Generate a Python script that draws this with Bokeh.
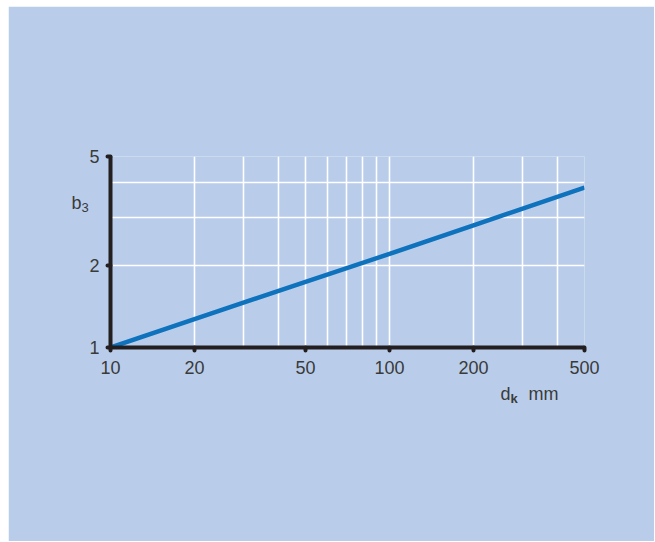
import numpy as np
from bokeh.plotting import figure
from bokeh.models import FixedTicker, Label
from bokeh.embed import file_html
from bokeh.resources import INLINE

# ---- data ----
dk = [10, 20, 50, 100, 200, 500]
b3 = [1.0, 1.27, 1.74, 2.2, 2.8, 3.85]

x_major = [10, 20, 50, 100, 200, 500]
x_grid = [20, 30, 40, 50, 60, 70, 80, 90, 100, 200, 300, 400, 500]
y_major = [1, 2, 5]
y_grid = [2, 3, 4, 5]

# ---- style ----
BG = "#b9cdea"
INK = "#231f20"
TXT = "#3a3a3a"
LINE = "#0f72bd"
FONT = "Liberation Sans"

OX, OY = 8, 6                      # canvas offset on the page
FL, FT, FW, FH = 102, 150, 474, 191  # frame position in canvas pixels
W, H = 646, 535
XR, YR = (10, 500), (1, 5)

p = figure(frame_width=FW, frame_height=FH,
           x_axis_type="log", y_axis_type="log",
           x_range=XR, y_range=YR,
           output_backend="svg", toolbar_location=None,
           min_border_left=FL, min_border_right=W - FL - FW,
           min_border_top=FT, min_border_bottom=H - FT - FH)
p.margin = (OY, 0, 0, OX)

p.background_fill_color = BG
p.border_fill_color = BG
p.outline_line_color = None

for ax, ticks in ((p.xaxis, x_major), (p.yaxis, y_major)):
    ax.ticker = FixedTicker(ticks=ticks, minor_ticks=[])
    ax.axis_line_width = 4
    ax.axis_line_color = INK
    ax.major_tick_line_width = 4
    ax.major_tick_line_color = INK
    ax.major_tick_line_cap = "round"
    ax.major_tick_out = 3
    ax.major_tick_in = 0
    ax.minor_tick_line_color = None
    ax.major_label_text_font = FONT
    ax.major_label_text_font_size = "18px"
    ax.major_label_text_color = TXT

p.xaxis.major_label_standoff = 10
p.yaxis.major_label_standoff = 8
p.xaxis.major_label_overrides = {t: str(t) for t in x_major}
p.yaxis.major_label_overrides = {t: str(t) for t in y_major}

p.xgrid.ticker = FixedTicker(ticks=x_grid, minor_ticks=[])
p.ygrid.ticker = FixedTicker(ticks=y_grid, minor_ticks=[])
for g in (p.xgrid, p.ygrid):
    g.grid_line_color = "white"
    g.grid_line_width = 1.6
    g.grid_line_alpha = 1.0

p.line(dk, b3, line_width=4.5, line_color=LINE)

# helpers: page pixel -> data coordinate
def sx(px):
    return 10 ** (np.log10(XR[0]) + (px - OX - FL) / FW * np.log10(XR[1] / XR[0]))

def sy(py):
    return 10 ** (np.log10(YR[0]) + (FT + FH - (py - OY)) / FH * np.log10(YR[1] / YR[0]))

def lab(text, px, py, size, side, style="normal"):
    p.add_layout(Label(x=sx(px), y=sy(py), text=text, text_font=FONT,
                       text_font_size=size, text_color=TXT, text_font_style=style,
                       text_align="left", text_baseline="alphabetic"), side)

lab("b", 71, 202, "18px", "left")
lab("3", 81, 207, "13px", "left")
lab("d", 500, 393, "18px", "below")
lab("k", 510, 398, "13px", "below", "bold")
lab("mm", 528, 393, "18px", "below")

open("out.html", "w").write(file_html(p, INLINE))
